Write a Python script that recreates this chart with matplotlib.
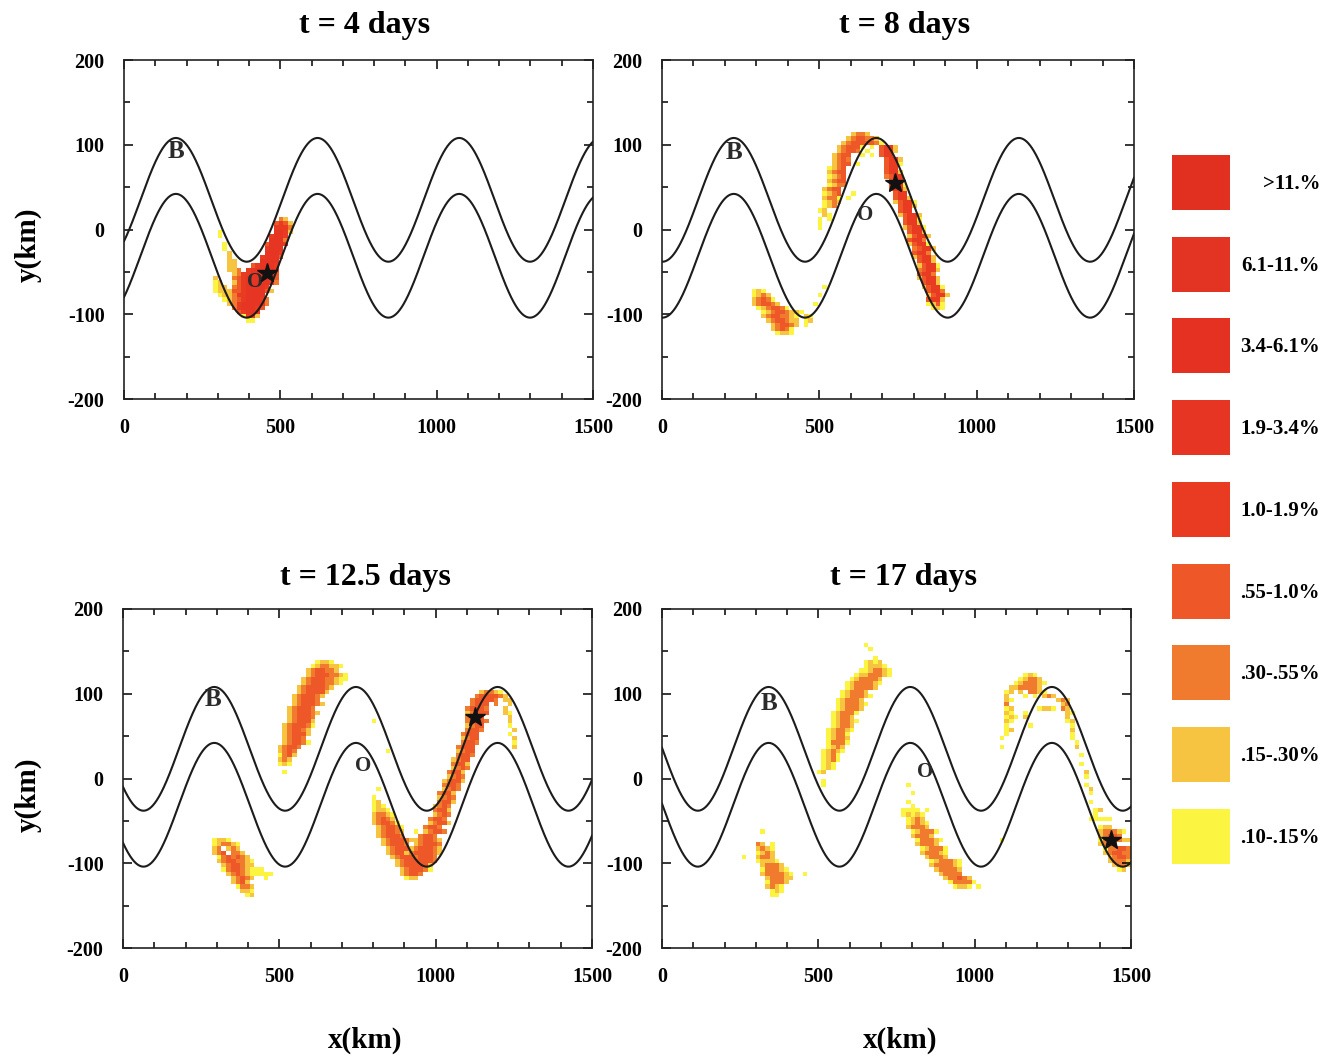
import numpy as np
import matplotlib
matplotlib.use("Agg")
import matplotlib.pyplot as plt
from matplotlib.colors import ListedColormap, BoundaryNorm
from matplotlib.ticker import MultipleLocator
from matplotlib.patches import Rectangle
from matplotlib.font_manager import FontProperties

plt.rcParams['font.family'] = ['Liberation Serif', 'DejaVu Serif']
plt.rcParams['axes.unicode_minus'] = False

# ---------------------------------------------------------------- data
days = [4, 8, 12.5, 17]
titles = ["t = 4 days", "t = 8 days", "t = 12.5 days", "t = 17 days"]

# meandering jet boundaries: crest position (km) of first meander at each time
crest_x = [166, 228, 292, 341]
wavelength = 453.0
upper_mid, lower_mid, amplitude = 35.0, -31.0, 73.0

# markers: "B", "O" labels and float position (star)
b_pos = [(165, 92), (228, 91), (288, 93), (341, 89)]
o_pos = [(419, -62), (644, 17), (768, 15), (843, 8)]
star_pos = [(456, -51), (739, 55), (1127, 72), (1436, -72)]

# concentration classes (level 1 .. 9)
class_labels = [".10-.15%", ".15-.30%", ".30-.55%", ".55-1.0%", "1.0-1.9%",
                "1.9-3.4%", "3.4-6.1%", "6.1-11.%", ">11.%"]
class_colors = ["#fbf542", "#f6c441", "#f07b2e", "#ee5727", "#e93a22",
                "#e63523", "#e43121", "#e33322", "#e13020"]

# model grid cells (15 km x 5 km)
cell_dx, cell_dy = 15, 5

# concentration cells: (top of row y km, left x km, class per cell; '.' = none)
cells_t4 = [
    (15, 285, "..............32.."),
    (10, 285, ".............4542."),
    (5, 285, ".............5553."),
    (0, 285, ".1...........6652."),
    (-5, 285, ".1..........5665.."),
    (-10, 285, "............6663.."),
    (-15, 285, "..1........46665.."),
    (-20, 285, "..1........5666..."),
    (-25, 285, "...2.......6665..."),
    (-30, 285, "...2......56664..."),
    (-35, 285, "...22.....6666...."),
    (-40, 285, "...22...456665...."),
    (-45, 285, "...223.5666665...."),
    (-50, 285, "....2355666664...."),
    (-55, 285, "2...3456666664...."),
    (-60, 285, "12..2456666653...."),
    (-65, 285, "122.34566665......"),
    (-70, 285, "1222445666642....."),
    (-75, 285, ".1223556666......."),
    (-80, 285, "..1234566653......"),
    (-85, 285, "...235666663......"),
    (-90, 285, "....3566654......."),
    (-95, 285, ".....45666........"),
    (-100, 285, "......1552........"),
    (-105, 285, ".......11........."),
]

cells_t8 = [
    (115, 600, "2332"), (110, 585, "2344332"), (105, 570, "234444431"),
    (100, 555, "23444"), (100, 630, "1.1"), (100, 690, "4552"),
    (95, 550, "23443"), (95, 640, "1"), (95, 690, "4552"),
    (90, 545, "2344"), (90, 625, "1.1"), (90, 695, "455"),
    (85, 540, "2343"), (85, 700, "4552"),
    (80, 535, "2344"), (80, 620, "1"), (80, 700, "4551"),
    (75, 530, "1234"), (75, 705, "455"),
    (70, 530, "2344"), (70, 710, "4552"),
    (65, 525, "1234"), (65, 710, "3455"),
    (60, 520, "2344"), (60, 715, "455"),
    (55, 520, "1233"), (55, 720, "4551"),
    (50, 515, "2344"), (50, 725, "4552"),
    (45, 510, "1234"), (45, 600, "1"), (45, 730, "455"),
    (40, 510, "2331"), (40, 590, "1"), (40, 735, "4552"),
    (35, 505, "1232"), (35, 735, "24551"),
    (30, 505, "123"), (30, 745, "4552"),
    (25, 500, "12"), (25, 750, "455"),
    (20, 505, "21"), (20, 750, "24552"),
    (15, 500, "1"), (15, 525, "1"), (15, 760, "4551"),
    (10, 495, "1"), (10, 765, "4552"),
    (5, 500, "1"), (5, 765, "24551"),
    (0, 775, "4552"), (-5, 775, "24552"), (-10, 785, "4553"),
    (-15, 785, "24551"), (-20, 790, "34552"), (-25, 795, "4553"),
    (-30, 795, "24552"), (-35, 805, "4552"), (-40, 805, "24551"),
    (-45, 810, "34552"), (-50, 815, "4553"), (-55, 815, "24552"),
    (-60, 825, "4552"), (-65, 825, "24551"), (-70, 835, "4553"),
    (-75, 835, "24552"), (-80, 845, "4552"), (-85, 845, "1241"),
    (-90, 850, "121"),
    (-65, 505, "1"), (-75, 490, "1"), (-85, 480, "1"),
    (-70, 285, "121"), (-75, 280, "1232"), (-80, 285, "23431"),
    (-85, 290, "234432"), (-90, 300, "1234431"), (-95, 310, "123443221"),
    (-100, 320, "23443321"), (-105, 330, "2344322"), (-110, 340, "234432"),
    (-115, 350, "23431"), (-120, 360, "1221"),
    (-100, 455, "21"), (-105, 450, "12"), (-110, 445, "1"),
]

cells_t12 = [
    # crest patch west of the second meander
    (140, 615, "1221"), (135, 600, "1233221"), (130, 590, "2344332"),
    (125, 580, "234443321"), (120, 570, "2344433211"), (115, 565, "234443321"),
    (110, 555, "23444432"), (105, 550, "2344442"), (100, 545, "2344432"),
    (95, 540, "234443"), (90, 535, "2344432"), (85, 530, "234443"),
    (80, 525, "2344432"), (75, 525, "234443"), (70, 520, "234442"),
    (65, 515, "2344431"), (60, 515, "234432"), (55, 510, "234442"),
    (50, 510, "23443"), (45, 505, "234431"), (40, 500, "23443"),
    (35, 500, "2343"), (30, 495, "1342"), (25, 495, "232"), (20, 495, "121"),
    (10, 515, "1"), (70, 800, "1"), (35, 845, "1"),
    # southern patch
    (-70, 290, "1221"), (-75, 285, "123321"), (-80, 290, "23.232"),
    (-85, 290, "234.332"), (-90, 295, "1343432"), (-95, 300, "23443321"),
    (-100, 310, "2344322"), (-105, 320, "134432111"), (-110, 330, "2343211111"),
    (-115, 340, "23432..1"), (-120, 350, "2342"), (-125, 360, "1332"),
    (-130, 375, "221"), (-135, 385, "12"),
    # trough patch
    (-20, 795, "1"), (-25, 800, "12"), (-30, 795, "121"), (-35, 800, "1221"),
    (-40, 795, "23321"), (-45, 800, "23432"), (-50, 800, "234431"),
    (-55, 805, "23443"), (-55, 890, "1"), (-60, 810, "234432"), (-60, 925, "1"),
    (-65, 815, "234443"), (-70, 820, "2344432"), (-75, 830, "234443"),
    (-80, 835, "234444"), (-85, 845, "23444"), (-90, 855, "2344434443"),
    (-95, 865, "234444443"), (-100, 870, "23444442"), (-105, 880, "2344431"),
    (-110, 890, "23443"), (-115, 905, "122"), (-10, 810, "1"),
    # filament along the jet toward the float
    (105, 1140, "23321"), (100, 1125, "3444432"), (95, 1110, "344443.22"),
    (90, 1105, "3444.3..2"), (85, 1100, "34443...2"), (80, 1095, "23444...21"),
    (75, 1095, "3444.....2"), (70, 1090, "34443....2"), (65, 1090, "2344.....1"),
    (60, 1090, "3443......2"), (55, 1085, "3444......1"), (50, 1080, "2344.......2"),
    (45, 1075, "3443.......1"), (40, 1070, "3444"), (40, 1240, "2"),
    (35, 1065, "2344"), (30, 1060, "3443"), (25, 1055, "2344"), (20, 1050, "3442"),
    (15, 1045, "2343"), (10, 1040, "3442"), (5, 1035, "2343"), (0, 1025, "23442"),
    (-5, 1020, "3443"), (-10, 1015, "2343"), (-15, 1010, "3442"),
    (-20, 1005, "2343"), (-25, 1000, "3442"), (-30, 995, "2343"),
    (-35, 990, "3442"), (-40, 985, "2343"), (-45, 980, "3443"),
    (-50, 970, "23442"), (-55, 965, "3443"), (-60, 955, "23443"),
    (-65, 950, "3443"), (-70, 935, "234432"), (-75, 925, "234443"),
    (-80, 910, "2344432"), (-85, 895, "23444432"),
]

cells_t17 = [
    # crest patch west of the second meander
    (160, 645, "1"), (155, 660, "1"), (145, 680, "1"),
    (140, 650, "1212"), (135, 640, "12221"), (130, 625, "1123321"),
    (125, 615, "12233321"), (120, 600, "1233332"), (115, 590, "12333321"),
    (110, 580, "1233332"), (105, 575, "123332"), (100, 565, "1233321"),
    (95, 560, "123332"), (90, 555, "1233321"), (85, 550, "123332"),
    (80, 545, "123331"), (75, 545, "12332"), (70, 540, "123321"),
    (65, 535, "12332"), (60, 530, "123321"), (55, 530, "12331"),
    (50, 525, "12332"), (45, 520, "13331"), (40, 520, "1232"),
    (35, 515, "12321"), (30, 515, "1231"), (25, 510, "1231"),
    (20, 505, "121"), (15, 505, "121"), (10, 500, "12"), (0, 505, "1"),
    (-5, 515, "1"),
    # southern patch
    (-60, 310, "1"), (-75, 295, "32"), (-75, 340, "1"), (-80, 300, "2321"),
    (-85, 295, "1232"), (-90, 305, "2332"), (-90, 250, "1"),
    (-95, 305, "12221"), (-100, 315, "23332"), (-105, 315, "133321"),
    (-110, 320, "2333321"), (-110, 455, "1"), (-115, 325, "233322"),
    (-120, 330, "13332"), (-125, 335, "2321"), (-130, 340, "121"),
    (-135, 345, "11"),
    # patch south of the second crest
    (-5, 780, "1"), (-15, 790, "1"), (-25, 775, "1"), (-30, 790, "1"),
    (-35, 770, "1111.1"), (-40, 770, "12121"), (-45, 775, "1232"),
    (-50, 780, "12321"), (-55, 785, "23332"), (-60, 790, "123331"),
    (-65, 800, "23332"), (-70, 805, "133321"), (-75, 815, "23332"),
    (-80, 820, "123331"), (-85, 830, "233321"), (-90, 840, "23332"),
    (-95, 850, "1233321"), (-100, 860, "2333321"), (-105, 875, "233332"),
    (-110, 885, "23333"), (-115, 900, "233432"), (-120, 910, "133331"),
    (-125, 925, "1221"), (-125, 1000, "1"),
    # third crest and filament toward the float
    (125, 1155, "121"), (120, 1140, "12332"), (115, 1125, "1233321"),
    (110, 1110, "2233332"), (105, 1100, "12.2.3321"), (100, 1095, "2...1.1.232"),
    (95, 1090, "21"), (90, 1095, "3"), (85, 1090, "12"), (80, 1100, "21"),
    (75, 1095, "121"), (70, 1090, "21"), (65, 1100, "1"), (60, 1090, "12"),
    (55, 1095, "1"), (50, 1085, "1"), (40, 1075, "1"),
    (80, 1160, "1"), (75, 1150, "2"), (65, 1175, "1"), (85, 1200, "1221"),
    (95, 1265, "232"), (90, 1275, "23"), (85, 1280, "32"), (80, 1285, "21"),
    (75, 1290, "2"), (70, 1295, "12"), (65, 1300, "1"), (60, 1305, "2"),
    (55, 1310, "1"), (50, 1310, "1"), (45, 1320, "1"), (40, 1325, "2"),
    (30, 1330, "1"), (20, 1340, "1"), (10, 1345, "2"), (5, 1350, "1"),
    (-5, 1355, "1"), (-10, 1360, "2"), (-15, 1365, "1"), (-25, 1370, "1"),
    (-35, 1375, "12"), (-40, 1385, "1"), (-45, 1370, "11111"),
    (-55, 1395, "122"), (-60, 1390, "233321"), (-65, 1395, "23443"),
    (-70, 1395, "1343322"), (-75, 1400, "2344"), (-80, 1405, "133443"),
    (-85, 1410, "234433"), (-90, 1420, "23443"), (-95, 1430, "23332"),
    (-100, 1440, "2332"), (-105, 1455, "12"), (-70, 1085, "1"),
]

panel_cells = [cells_t4, cells_t8, cells_t12, cells_t17]

# ---------------------------------------------------------------- layout
W, H = 1335, 1060
fig = plt.figure(figsize=(W / 100, H / 100), dpi=100)


def rect(l, t, r, b):
    return [l / W, 1 - b / H, (r - l) / W, (b - t) / H]


panel_boxes = [(124, 60, 593, 399), (662, 60, 1134, 399),
               (123, 609, 592, 948), (662, 609, 1131, 948)]
title_xy = [(365, 25), (905, 25), (365, 577), (903, 577)]

x_edges = np.arange(0, 1500 + cell_dx, cell_dx)
y_edges = np.arange(-200, 200 + cell_dy, cell_dy)
cmap = ListedColormap(class_colors)
norm = BoundaryNorm(np.arange(0.5, 10.5, 1.0), cmap.N)
xs = np.linspace(0, 1500, 1500)
line_col = "#1c1c1c"
tick_font = FontProperties(family=['Liberation Serif', 'DejaVu Serif'],
                           weight='bold', size=14.5)


def cell_field(runs):
    z = np.full((len(y_edges) - 1, len(x_edges) - 1), np.nan)
    for y_top, x0, pat in runs:
        row = int(round((y_top + 200) / cell_dy)) - 1
        col0 = int(round(x0 / cell_dx))
        for k, ch in enumerate(pat):
            c = col0 + k
            if ch.isdigit() and 0 <= row < z.shape[0] and 0 <= c < z.shape[1]:
                z[row, c] = int(ch)
    return np.ma.masked_invalid(z)


for i in range(4):
    ax = fig.add_axes(rect(*panel_boxes[i]))
    z = cell_field(panel_cells[i])
    ax.pcolormesh(x_edges, y_edges, z, cmap=cmap, norm=norm,
                  edgecolors='none', antialiased=False, zorder=1)

    phase = 2 * np.pi * (xs - crest_x[i]) / wavelength
    ax.plot(xs, upper_mid + amplitude * np.cos(phase), color=line_col, lw=1.5, zorder=3)
    ax.plot(xs, lower_mid + amplitude * np.cos(phase), color=line_col, lw=1.5, zorder=3)

    ax.text(*b_pos[i], "B", ha='center', va='center', fontsize=18,
            weight='bold', color="#2b2b2b", zorder=4)
    ax.text(*o_pos[i], "O", ha='center', va='center', fontsize=15,
            weight='bold', color="#2b2b2b", zorder=4)
    ax.plot(*star_pos[i], marker='*', color='#111111', ms=15, zorder=5)

    ax.set_xlim(0, 1500)
    ax.set_ylim(-200, 200)
    ax.set_xticks([0, 500, 1000, 1500])
    ax.set_yticks([-200, -100, 0, 100, 200])
    ax.xaxis.set_minor_locator(MultipleLocator(100))
    ax.yaxis.set_minor_locator(MultipleLocator(50))
    ax.tick_params(which='major', direction='in', top=True, right=True,
                   length=6.5, width=1.1, pad=14)
    ax.tick_params(which='minor', direction='in', top=True, right=True,
                   length=4.5, width=1.1)
    for lab in ax.get_xticklabels() + ax.get_yticklabels():
        lab.set_fontproperties(tick_font)
    for sp in ax.spines.values():
        sp.set_linewidth(1.2)
        sp.set_color("#222222")

    fig.text(title_xy[i][0] / W, 1 - title_xy[i][1] / H, titles[i],
             ha='center', va='center', fontsize=23, weight='bold')

# axis titles
for yc in (245, 795):
    fig.text(28 / W, 1 - yc / H, "y(km)", rotation=90, ha='center', va='center',
             fontsize=21, weight='bold')
for xc in (365, 900):
    fig.text(xc / W, 1 - 1040 / H, "x(km)", ha='center', va='center',
             fontsize=21, weight='bold')

# class key
key_ax = fig.add_axes([0, 0, 1, 1], facecolor='none')
key_ax.set_xlim(0, W)
key_ax.set_ylim(H, 0)
key_ax.axis('off')
for j, (lab, col) in enumerate(zip(class_labels[::-1], class_colors[::-1])):
    top = 155 + j * 81.7
    key_ax.add_patch(Rectangle((1172, top), 58, 55, facecolor=col, edgecolor='none'))
    key_ax.text(1320, top + 29, lab, ha='right', va='center', fontsize=15,
                weight='bold')

fig.savefig("out.png", dpi=100)
